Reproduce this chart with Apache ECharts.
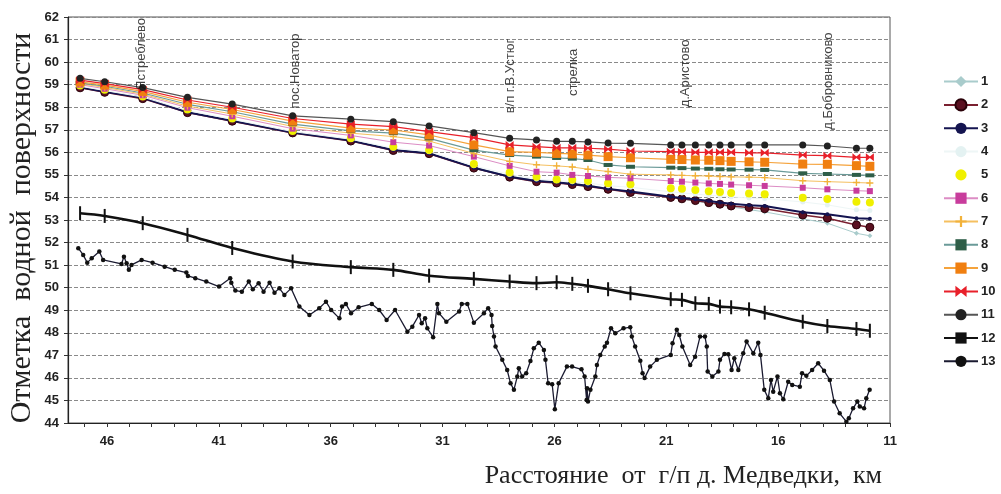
<!DOCTYPE html>
<html>
<head>
<meta charset="utf-8">
<script src="https://cdn.jsdelivr.net/npm/echarts@6/dist/echarts.min.js"></script>
<style>
html,body{margin:0;padding:0;background:#fff;}
#chart{width:1001px;height:494px;}
</style>
</head>
<body>
<div id="chart"></div>
<script>
// Distance from gauge (km) of the cross-sections
const stations = [47.2, 46.1, 44.4, 42.4, 40.4, 37.7, 35.1, 33.2, 31.6, 29.6, 28.0, 26.8, 25.9, 25.2, 24.5, 23.6, 22.6, 20.8, 20.3, 19.7, 19.1, 18.6, 18.1, 17.3, 16.6, 14.9, 13.8, 12.5, 11.9];

const s1  = [58.90, 58.70, 58.43, 57.80, 57.42, 56.90, 56.55, 56.12, 55.98, 55.34, 54.94, 54.75, 54.69, 54.62, 54.54, 54.40, 54.25, 54.00, 53.92, 53.83, 53.74, 53.66, 53.58, 53.46, 53.36, 53.05, 52.86, 52.41, 52.30];
const s2  = [58.86, 58.66, 58.38, 57.76, 57.38, 56.86, 56.50, 56.08, 55.94, 55.30, 54.90, 54.70, 54.64, 54.57, 54.48, 54.36, 54.22, 54.00, 53.94, 53.86, 53.77, 53.70, 53.62, 53.55, 53.50, 53.22, 53.08, 52.78, 52.68];
const s3  = [58.88, 58.68, 58.42, 57.78, 57.40, 56.88, 56.52, 56.10, 55.96, 55.32, 54.92, 54.73, 54.67, 54.60, 54.52, 54.38, 54.26, 54.03, 53.98, 53.92, 53.84, 53.78, 53.72, 53.65, 53.62, 53.34, 53.25, 53.08, 53.05];
const s4  = [58.93, 58.74, 58.45, 57.85, 57.46, 56.92, 56.58, 56.18, 56.03, 55.40, 55.02, 54.82, 54.74, 54.70, 54.64, 54.52, 54.45, 54.25, 54.20, 54.15, 54.10, 54.06, 54.02, 53.98, 53.95, 53.80, 53.67, 53.45, 53.42];
const s5  = [58.96, 58.78, 58.48, 57.90, 57.50, 56.95, 56.62, 56.25, 56.10, 55.48, 55.11, 54.92, 54.80, 54.78, 54.73, 54.63, 54.58, 54.41, 54.38, 54.33, 54.28, 54.24, 54.20, 54.17, 54.14, 53.99, 53.93, 53.81, 53.78];
const s6  = [59.00, 58.82, 58.53, 57.98, 57.60, 57.05, 56.75, 56.45, 56.30, 55.81, 55.40, 55.14, 55.10, 55.00, 54.95, 54.89, 54.85, 54.73, 54.70, 54.66, 54.62, 54.60, 54.57, 54.54, 54.51, 54.43, 54.36, 54.30, 54.28];
const s7  = [59.04, 58.88, 58.58, 58.05, 57.70, 57.15, 56.85, 56.70, 56.50, 55.95, 55.60, 55.45, 55.40, 55.35, 55.25, 55.15, 55.03, 55.00, 54.98, 54.96, 54.95, 54.93, 54.91, 54.90, 54.88, 54.74, 54.70, 54.66, 54.64];
const s8  = [59.08, 58.93, 58.63, 58.13, 57.80, 57.25, 56.95, 56.85, 56.62, 56.10, 55.88, 55.81, 55.75, 55.72, 55.66, 55.44, 55.36, 55.32, 55.30, 55.28, 55.27, 55.25, 55.24, 55.23, 55.22, 55.07, 55.04, 55.00, 54.98];
const s9  = [59.12, 58.98, 58.70, 58.22, 57.90, 57.38, 57.07, 56.99, 56.77, 56.33, 56.03, 56.00, 55.95, 55.93, 55.88, 55.81, 55.76, 55.69, 55.68, 55.66, 55.65, 55.63, 55.60, 55.58, 55.56, 55.48, 55.47, 55.41, 55.38];
const s10 = [59.20, 59.05, 58.78, 58.32, 58.00, 57.50, 57.25, 57.14, 56.92, 56.65, 56.33, 56.25, 56.20, 56.20, 56.18, 56.14, 56.06, 56.03, 56.02, 56.00, 56.00, 56.00, 56.00, 55.98, 55.98, 55.88, 55.85, 55.78, 55.78];
const s11 = [59.28, 59.13, 58.87, 58.44, 58.14, 57.62, 57.47, 57.36, 57.17, 56.87, 56.62, 56.55, 56.49, 56.49, 56.46, 56.41, 56.40, 56.33, 56.33, 56.33, 56.33, 56.33, 56.33, 56.33, 56.33, 56.33, 56.28, 56.18, 56.18];
const s12 = [53.30, 53.18, 52.86, 52.34, 51.76, 51.16, 50.91, 50.79, 50.53, 50.39, 50.27, 50.20, 50.24, 50.17, 50.08, 49.93, 49.75, 49.49, 49.46, 49.31, 49.28, 49.16, 49.13, 49.04, 48.89, 48.49, 48.30, 48.17, 48.09];

// Series 13: bed profile (distance km, elevation)
const bedX = [47.28, 47.06, 46.88, 46.68, 46.34, 46.17, 45.35, 45.24, 45.12, 45.02, 44.90, 44.45, 43.96, 43.42, 42.97, 42.45, 42.38, 42.05, 41.56, 40.99,
  40.49, 40.44, 40.26, 39.97, 39.66, 39.48, 39.22, 39.00, 38.73, 38.51, 38.29, 38.07, 37.77, 37.40, 36.95, 36.51, 36.21, 35.98, 35.61, 35.49,
  35.32, 35.09, 34.75, 34.16, 33.83, 33.50, 33.12, 32.57, 32.35, 32.05, 31.93, 31.78, 31.68, 31.42, 31.23, 31.16, 30.83, 30.26, 30.14, 29.89,
  29.60, 29.15, 28.96, 28.81, 28.78, 28.70, 28.63, 28.33, 28.11, 27.96, 27.81, 27.66, 27.59, 27.44, 27.26, 27.07, 26.92, 26.70, 26.47, 26.40,
  26.28, 26.10, 25.98, 25.81, 25.44, 25.21, 24.79, 24.65, 24.56, 24.54, 24.50, 24.39, 24.17, 24.10, 23.95, 23.75, 23.65, 23.47, 23.28, 22.91,
  22.61, 22.54, 22.39, 22.16, 22.06, 21.97, 21.72, 21.42, 20.80, 20.72, 20.53, 20.42, 20.28, 19.93, 19.71, 19.49, 19.27, 19.19, 19.15, 18.94,
  18.67, 18.60, 18.40, 18.23, 18.08, 17.96, 17.78, 17.56, 17.41, 17.11, 16.89, 16.79, 16.62, 16.44, 16.32, 16.22, 16.03, 15.92, 15.77, 15.55,
  15.37, 15.03, 14.93, 14.74, 14.48, 14.21, 13.95, 13.69, 13.50, 13.25, 12.95, 12.84, 12.65, 12.46, 12.35, 12.16, 12.06, 11.91];
const bedY = [51.75, 51.45, 51.11, 51.30, 51.60, 51.23, 51.05, 51.37, 51.08, 50.79, 51.01, 51.23, 51.11, 50.93, 50.79, 50.67, 50.52, 50.42, 50.27, 50.05,
  50.42, 50.22, 49.87, 49.82, 50.27, 49.93, 50.20, 49.82, 50.22, 49.78, 49.97, 49.68, 49.97, 49.16, 48.79, 49.09, 49.38, 49.01, 48.64, 49.16,
  49.28, 48.87, 49.13, 49.28, 49.01, 48.57, 49.01, 48.05, 48.27, 48.79, 48.42, 48.64, 48.20, 47.80, 49.28, 48.87, 48.49, 48.94, 49.28, 49.28,
  48.45, 48.87, 49.09, 48.79, 48.30, 47.83, 47.39, 46.80, 46.35, 45.76, 45.47, 46.06, 46.43, 46.06, 46.21, 46.75, 47.31, 47.56, 47.24, 46.80,
  45.76, 45.72, 44.61, 45.76, 46.50, 46.50, 46.38, 46.06, 45.02, 45.54, 44.95, 45.47, 46.06, 46.57, 47.02, 47.39, 47.56, 48.20, 47.98, 48.20,
  48.25, 47.83, 47.39, 46.76, 46.21, 45.99, 46.50, 46.80, 47.02, 47.54, 48.13, 47.90, 47.39, 46.57, 46.94, 47.83, 47.83, 47.39, 46.28, 46.06,
  46.28, 46.80, 47.06, 47.05, 46.35, 46.87, 46.35, 47.09, 47.61, 47.09, 47.56, 47.02, 45.47, 45.10, 45.91, 45.39, 46.06, 45.32, 45.05, 45.83,
  45.69, 45.61, 46.21, 46.09, 46.35, 46.65, 46.32, 45.91, 44.95, 44.43, 44.06, 44.21, 44.65, 44.95, 44.73, 44.65, 45.10, 45.47];

// Place names along the river (km, elevation of label centre)
const placeNames = ['Ястреблево', 'пос.Новатор', 'в/п г.В.Устюг', 'стрелка', 'д.Аристово', 'д.Бобровниково'];
const placeKm    = [44.44, 37.57, 27.95, 25.14, 20.14, 13.77];
const placeY     = [60.36, 59.61, 59.38, 59.54, 59.50, 59.16];

const seriesNames = ['1','2','3','4','5','6','7','8','9','10','11','12','13'];
const xLabelValues = [46, 41, 36, 31, 26, 21, 16, 11];
const xTickValues = [];
for (let k = 11; k <= 47; k++) xTickValues.push(k);

const yTitle = 'Отметка  водной  поверхности';
const xTitle = 'Расстояние  от  г/п д. Медведки,  км';

function pairs(xs, ys) { return xs.map((x, i) => [x, ys[i]]); }

const PLUS = 'path://M4,0 L6,0 L6,4 L10,4 L10,6 L6,6 L6,10 L4,10 L4,6 L0,6 L0,4 L4,4 Z';
const BOW = 'path://M0,0 L5,4 L10,0 L10,10 L5,6 L0,10 Z';

const styles = [
  {c:'#a9cccc', lc:'#a9cccc', w:1, sym:'diamond', size:5},
  {c:'#5a1020', lc:'#7a2030', w:1.5, sym:'circle', size:8, border:'#2a0008'},
  {c:'#141450', lc:'#141450', w:2, sym:'circle', size:4},
  {c:'#e4f2f2', lc:'#eef6f6', w:1, sym:'circle', size:5},
  {c:'#f0f000', lc:'#f0f000', w:0, sym:'circle', size:8},
  {c:'#c83c9c', lc:'#dc8cc4', w:1, sym:'rect', size:6},
  {c:'#f2b23a', lc:'#f5c060', w:1, sym:PLUS, size:7},
  {c:'#2e5e48', lc:'#6a9a98', w:1.2, sym:'rect', size:[9,4]},
  {c:'#f07f10', lc:'#f5a33c', w:1.2, sym:'rect', size:9},
  {c:'#e8202a', lc:'#e8202a', w:1.2, sym:BOW, size:8},
  {c:'#222222', lc:'#555555', w:1.2, sym:'circle', size:7},
  {c:'#111111', lc:'#111111', w:2.6, sym:'rect', size:[2,14]},
  {c:'#111111', lc:'#1a1a30', w:1.3, sym:'circle', size:4.5}
];
const dataSets = [s1,s2,s3,s4,s5,s6,s7,s8,s9,s10,s11,s12].map(s => pairs(stations, s));
dataSets.push(pairs(bedX, bedY));

const series = seriesNames.map((n, i) => {
  const st = styles[i];
  return {
    name: n,
    type: 'line',
    data: dataSets[i],
    symbol: st.sym,
    symbolSize: st.size,
    showSymbol: true,
    smooth: i === 11 ? 0.35 : false,
    lineStyle: {color: st.lc, width: st.w, opacity: st.w === 0 ? 0 : 1},
    itemStyle: {color: st.c, borderColor: st.border || st.c, borderWidth: st.border ? 1 : 0},
    emphasis: {disabled: true},
    animation: false,
    z: 2 + i
  };
});

series.push({
  name: 'places',
  type: 'scatter',
  data: placeNames.map((nm, i) => ({name: nm, value: [placeKm[i], placeY[i]]})),
  symbolSize: 1,
  itemStyle: {color: 'rgba(0,0,0,0)'},
  label: {
    show: true, position: 'inside', rotate: 90, formatter: '{b}',
    color: '#111', fontSize: 13, fontFamily: 'Liberation Sans'
  },
  animation: false,
  z: 30
});

const chart = echarts.init(document.getElementById('chart'), null, {renderer: 'canvas'});
chart.setOption({
  backgroundColor: '#ffffff',
  animation: false,
  title: {
    text: xTitle,
    right: 114, top: 458,
    textStyle: {fontFamily: 'Liberation Serif', fontSize: 26, fontWeight: 'normal', color: '#222'}
  },
  graphic: [{
    type: 'text',
    x: 22, y: 228,
    rotation: Math.PI / 2,
    silent: true,
    style: {
      text: yTitle,
      fill: '#222',
      font: '30px "Liberation Serif"',
      align: 'center',
      verticalAlign: 'middle'
    }
  }],
  grid: {left: 68, right: 111, top: 17, bottom: 71, outerBoundsMode: 'none', containLabel: false,
         show: true, borderColor: '#555', borderWidth: 1, backgroundColor: 'transparent'},
  legend: {
    data: seriesNames,
    orient: 'vertical',
    left: 938, top: 70,
    itemWidth: 34, itemHeight: 14, itemGap: 10.3,
    textStyle: {fontFamily: 'Liberation Sans', fontSize: 13, fontWeight: 'bold', color: '#222', padding: [0,0,0,-2]},
    selectedMode: false
  },
  xAxis: {
    type: 'value',
    inverse: true,
    min: 11, max: 47.74,
    axisLine: {show: true, onZero: false, lineStyle: {color: '#222', width: 1.2}},
    axisTick: {show: true, customValues: xTickValues, length: 4, lineStyle: {color: '#333'}},
    axisLabel: {customValues: xLabelValues, margin: 12, fontFamily: 'Liberation Sans', fontSize: 13, fontWeight: 'bold', color: '#222'},
    splitLine: {show: false}
  },
  yAxis: {
    type: 'value',
    min: 44, max: 62, interval: 1,
    axisLine: {show: true, lineStyle: {color: '#222', width: 1.2}},
    axisTick: {show: true, length: 4, lineStyle: {color: '#333'}},
    axisLabel: {margin: 9, fontFamily: 'Liberation Sans', fontSize: 13, fontWeight: 'bold', color: '#222'},
    splitLine: {show: true, lineStyle: {color: '#8a8a8a', type: [4, 2], width: 1}}
  },
  series: series
});
</script>
</body>
</html>
